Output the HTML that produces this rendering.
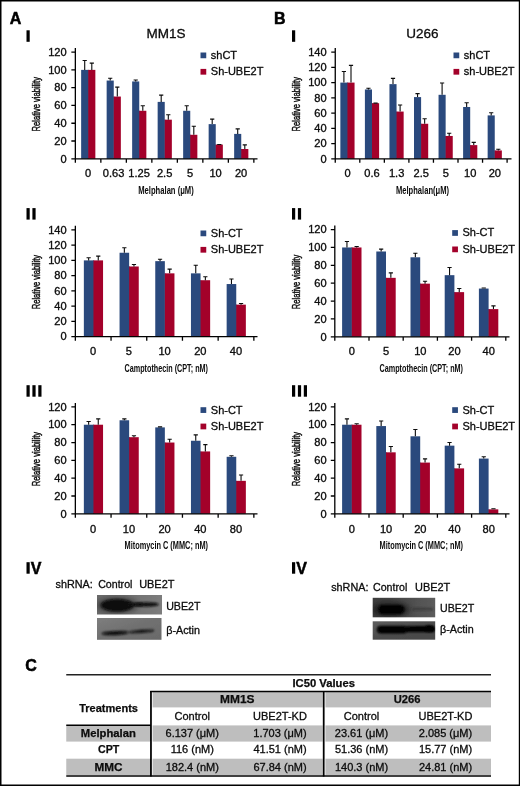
<!DOCTYPE html>
<html><head><meta charset="utf-8"><title>Figure</title>
<style>html,body{margin:0;padding:0;background:#fff;}svg{display:block;will-change:transform;opacity:0.999;}body{font-family:"Liberation Sans",sans-serif;}</style></head>
<body>
<svg width="520" height="786" viewBox="0 0 520 786" font-family="'Liberation Sans', sans-serif" fill="#0b0b0b">
<rect x="0" y="0" width="520" height="786" fill="#fff"/>
<defs><filter id="soft" filterUnits="userSpaceOnUse" x="0" y="0" width="520" height="786"><feGaussianBlur stdDeviation="0.3"/></filter></defs>
<g filter="url(#soft)">
<rect x="0" y="0" width="520" height="786" fill="#fff"/>
<rect x="81.15" y="69.88" width="7.10" height="88.92" fill="#2c4a7d"/>
<rect x="87.75" y="69.88" width="1.2" height="88.92" fill="#2c4a7d"/>
<rect x="88.25" y="69.88" width="7.10" height="88.92" fill="#a3002c"/>
<path d="M84.70 69.88V60.45M82.60 60.45H86.80" stroke="#0b0b0b" stroke-width="1.1" fill="none"/>
<path d="M91.80 69.88V63.12M89.70 63.12H93.90" stroke="#0b0b0b" stroke-width="1.1" fill="none"/>
<rect x="106.65" y="80.55" width="7.10" height="78.25" fill="#2c4a7d"/>
<rect x="113.25" y="96.56" width="1.2" height="62.24" fill="#2c4a7d"/>
<rect x="113.75" y="96.56" width="7.10" height="62.24" fill="#a3002c"/>
<path d="M110.20 80.55V78.24M108.10 78.24H112.30" stroke="#0b0b0b" stroke-width="1.1" fill="none"/>
<path d="M117.30 96.56V87.13M115.20 87.13H119.40" stroke="#0b0b0b" stroke-width="1.1" fill="none"/>
<rect x="132.15" y="81.44" width="7.10" height="77.36" fill="#2c4a7d"/>
<rect x="138.75" y="110.78" width="1.2" height="48.02" fill="#2c4a7d"/>
<rect x="139.25" y="110.78" width="7.10" height="48.02" fill="#a3002c"/>
<path d="M135.70 81.44V80.01M133.60 80.01H137.80" stroke="#0b0b0b" stroke-width="1.1" fill="none"/>
<path d="M142.80 110.78V105.80M140.70 105.80H144.90" stroke="#0b0b0b" stroke-width="1.1" fill="none"/>
<rect x="157.65" y="101.89" width="7.10" height="56.91" fill="#2c4a7d"/>
<rect x="164.25" y="119.68" width="1.2" height="39.12" fill="#2c4a7d"/>
<rect x="164.75" y="119.68" width="7.10" height="39.12" fill="#a3002c"/>
<path d="M161.20 101.89V95.13M159.10 95.13H163.30" stroke="#0b0b0b" stroke-width="1.1" fill="none"/>
<path d="M168.30 119.68V114.69M166.20 114.69H170.40" stroke="#0b0b0b" stroke-width="1.1" fill="none"/>
<rect x="183.15" y="110.78" width="7.10" height="48.02" fill="#2c4a7d"/>
<rect x="189.75" y="134.79" width="1.2" height="24.01" fill="#2c4a7d"/>
<rect x="190.25" y="134.79" width="7.10" height="24.01" fill="#a3002c"/>
<path d="M186.70 110.78V105.80M184.60 105.80H188.80" stroke="#0b0b0b" stroke-width="1.1" fill="none"/>
<path d="M193.80 134.79V126.25M191.70 126.25H195.90" stroke="#0b0b0b" stroke-width="1.1" fill="none"/>
<rect x="208.65" y="124.12" width="7.10" height="34.68" fill="#2c4a7d"/>
<rect x="215.25" y="144.57" width="1.2" height="14.23" fill="#2c4a7d"/>
<rect x="215.75" y="144.57" width="7.10" height="14.23" fill="#a3002c"/>
<path d="M212.20 124.12V119.14M210.10 119.14H214.30" stroke="#0b0b0b" stroke-width="1.1" fill="none"/>
<path d="M219.30 144.57V144.48M217.20 144.48H221.40" stroke="#0b0b0b" stroke-width="1.1" fill="none"/>
<rect x="234.15" y="133.90" width="7.10" height="24.90" fill="#2c4a7d"/>
<rect x="240.75" y="149.02" width="1.2" height="9.78" fill="#2c4a7d"/>
<rect x="241.25" y="149.02" width="7.10" height="9.78" fill="#a3002c"/>
<path d="M237.70 133.90V128.92M235.60 128.92H239.80" stroke="#0b0b0b" stroke-width="1.1" fill="none"/>
<path d="M244.80 149.02V144.92M242.70 144.92H246.90" stroke="#0b0b0b" stroke-width="1.1" fill="none"/>
<path d="M75.35 48.10V162.80M71.35 158.8H257.5M71.35 141.02H75.35M71.35 123.23H75.35M71.35 105.45H75.35M71.35 87.67H75.35M71.35 69.88H75.35M71.35 52.10H75.35M100.85 158.8V162.8M126.35 158.8V162.8M151.85 158.8V162.8M177.35 158.8V162.8M202.85 158.8V162.8M228.35 158.8V162.8M253.85 158.8V162.8" stroke="#000" stroke-width="1.3" fill="none"/>
<text transform="translate(66.7,162.55) scale(1.11,1)" font-size="10" text-anchor="end" stroke="#0b0b0b" stroke-width="0.3">0</text>
<text transform="translate(66.7,144.77) scale(1.11,1)" font-size="10" text-anchor="end" stroke="#0b0b0b" stroke-width="0.3">20</text>
<text transform="translate(66.7,126.98) scale(1.11,1)" font-size="10" text-anchor="end" stroke="#0b0b0b" stroke-width="0.3">40</text>
<text transform="translate(66.7,109.20) scale(1.11,1)" font-size="10" text-anchor="end" stroke="#0b0b0b" stroke-width="0.3">60</text>
<text transform="translate(66.7,91.42) scale(1.11,1)" font-size="10" text-anchor="end" stroke="#0b0b0b" stroke-width="0.3">80</text>
<text transform="translate(66.7,73.63) scale(1.11,1)" font-size="10" text-anchor="end" stroke="#0b0b0b" stroke-width="0.3">100</text>
<text transform="translate(66.7,55.85) scale(1.11,1)" font-size="10" text-anchor="end" stroke="#0b0b0b" stroke-width="0.3">120</text>
<text transform="translate(88.10,177) scale(1.11,1)" font-size="10" text-anchor="middle" stroke="#0b0b0b" stroke-width="0.3">0</text>
<text transform="translate(113.60,177) scale(1.11,1)" font-size="10" text-anchor="middle" stroke="#0b0b0b" stroke-width="0.3">0.63</text>
<text transform="translate(139.10,177) scale(1.11,1)" font-size="10" text-anchor="middle" stroke="#0b0b0b" stroke-width="0.3">1.25</text>
<text transform="translate(164.60,177) scale(1.11,1)" font-size="10" text-anchor="middle" stroke="#0b0b0b" stroke-width="0.3">2.5</text>
<text transform="translate(190.10,177) scale(1.11,1)" font-size="10" text-anchor="middle" stroke="#0b0b0b" stroke-width="0.3">5</text>
<text transform="translate(215.60,177) scale(1.11,1)" font-size="10" text-anchor="middle" stroke="#0b0b0b" stroke-width="0.3">10</text>
<text transform="translate(241.10,177) scale(1.11,1)" font-size="10" text-anchor="middle" stroke="#0b0b0b" stroke-width="0.3">20</text>
<text x="166" y="194" font-size="11.3" text-anchor="middle" font-weight="bold" textLength="55.5" lengthAdjust="spacingAndGlyphs">Melphalan (μM)</text>
<text transform="translate(39.8,104.25) rotate(-90)" font-size="10.4" stroke="#111" stroke-width="0.45" text-anchor="middle" textLength="54.4" lengthAdjust="spacingAndGlyphs">Relative viability</text>
<rect x="200.5" y="52.5" width="5.75" height="5.75" fill="#2c4a7d"/>
<rect x="200.5" y="68.9" width="5.75" height="5.75" fill="#a3002c"/>
<text x="210.8" y="58.85" font-size="11" text-anchor="start" stroke="#0b0b0b" stroke-width="0.3">shCT</text>
<text x="210.8" y="75.25" font-size="11" text-anchor="start" stroke="#0b0b0b" stroke-width="0.3">Sh-UBE2T</text>
<rect x="83.85" y="260.38" width="9.60" height="76.32" fill="#2c4a7d"/>
<rect x="92.95" y="260.38" width="1.2" height="76.32" fill="#2c4a7d"/>
<rect x="93.45" y="260.38" width="9.60" height="76.32" fill="#a3002c"/>
<path d="M88.65 260.38V257.68M86.55 257.68H90.75" stroke="#0b0b0b" stroke-width="1.1" fill="none"/>
<path d="M98.25 260.38V256.15M96.15 256.15H100.35" stroke="#0b0b0b" stroke-width="1.1" fill="none"/>
<rect x="119.55" y="252.75" width="9.60" height="83.95" fill="#2c4a7d"/>
<rect x="128.65" y="266.48" width="1.2" height="70.22" fill="#2c4a7d"/>
<rect x="129.15" y="266.48" width="9.60" height="70.22" fill="#a3002c"/>
<path d="M124.35 252.75V247.75M122.25 247.75H126.45" stroke="#0b0b0b" stroke-width="1.1" fill="none"/>
<path d="M133.95 266.48V264.54M131.85 264.54H136.05" stroke="#0b0b0b" stroke-width="1.1" fill="none"/>
<rect x="155.25" y="261.14" width="9.60" height="75.56" fill="#2c4a7d"/>
<rect x="164.35" y="273.35" width="1.2" height="63.35" fill="#2c4a7d"/>
<rect x="164.85" y="273.35" width="9.60" height="63.35" fill="#a3002c"/>
<path d="M160.05 261.14V259.20M157.95 259.20H162.15" stroke="#0b0b0b" stroke-width="1.1" fill="none"/>
<path d="M169.65 273.35V269.12M167.55 269.12H171.75" stroke="#0b0b0b" stroke-width="1.1" fill="none"/>
<rect x="190.95" y="273.35" width="9.60" height="63.35" fill="#2c4a7d"/>
<rect x="200.05" y="280.22" width="1.2" height="56.48" fill="#2c4a7d"/>
<rect x="200.55" y="280.22" width="9.60" height="56.48" fill="#a3002c"/>
<path d="M195.75 273.35V265.31M193.65 265.31H197.85" stroke="#0b0b0b" stroke-width="1.1" fill="none"/>
<path d="M205.35 280.22V276.76M203.25 276.76H207.45" stroke="#0b0b0b" stroke-width="1.1" fill="none"/>
<rect x="226.65" y="284.04" width="9.60" height="52.66" fill="#2c4a7d"/>
<rect x="235.75" y="304.64" width="1.2" height="32.05" fill="#2c4a7d"/>
<rect x="236.25" y="304.64" width="9.60" height="32.05" fill="#a3002c"/>
<path d="M231.45 284.04V279.05M229.35 279.05H233.55" stroke="#0b0b0b" stroke-width="1.1" fill="none"/>
<path d="M241.05 304.64V303.47M238.95 303.47H243.15" stroke="#0b0b0b" stroke-width="1.1" fill="none"/>
<path d="M75.35 225.85V340.70M71.35 336.7H257.5M71.35 321.44H75.35M71.35 306.17H75.35M71.35 290.91H75.35M71.35 275.64H75.35M71.35 260.38H75.35M71.35 245.11H75.35M71.35 229.85H75.35M111.05 336.7V340.7M146.75 336.7V340.7M182.45 336.7V340.7M218.15 336.7V340.7M253.85 336.7V340.7" stroke="#000" stroke-width="1.3" fill="none"/>
<text transform="translate(66.7,340.45) scale(1.11,1)" font-size="10" text-anchor="end" stroke="#0b0b0b" stroke-width="0.3">0</text>
<text transform="translate(66.7,325.19) scale(1.11,1)" font-size="10" text-anchor="end" stroke="#0b0b0b" stroke-width="0.3">20</text>
<text transform="translate(66.7,309.92) scale(1.11,1)" font-size="10" text-anchor="end" stroke="#0b0b0b" stroke-width="0.3">40</text>
<text transform="translate(66.7,294.66) scale(1.11,1)" font-size="10" text-anchor="end" stroke="#0b0b0b" stroke-width="0.3">60</text>
<text transform="translate(66.7,279.39) scale(1.11,1)" font-size="10" text-anchor="end" stroke="#0b0b0b" stroke-width="0.3">80</text>
<text transform="translate(66.7,264.13) scale(1.11,1)" font-size="10" text-anchor="end" stroke="#0b0b0b" stroke-width="0.3">100</text>
<text transform="translate(66.7,248.86) scale(1.11,1)" font-size="10" text-anchor="end" stroke="#0b0b0b" stroke-width="0.3">120</text>
<text transform="translate(66.7,233.60) scale(1.11,1)" font-size="10" text-anchor="end" stroke="#0b0b0b" stroke-width="0.3">140</text>
<text transform="translate(93.20,355) scale(1.11,1)" font-size="10" text-anchor="middle" stroke="#0b0b0b" stroke-width="0.3">0</text>
<text transform="translate(128.90,355) scale(1.11,1)" font-size="10" text-anchor="middle" stroke="#0b0b0b" stroke-width="0.3">5</text>
<text transform="translate(164.60,355) scale(1.11,1)" font-size="10" text-anchor="middle" stroke="#0b0b0b" stroke-width="0.3">10</text>
<text transform="translate(200.30,355) scale(1.11,1)" font-size="10" text-anchor="middle" stroke="#0b0b0b" stroke-width="0.3">20</text>
<text transform="translate(236.00,355) scale(1.11,1)" font-size="10" text-anchor="middle" stroke="#0b0b0b" stroke-width="0.3">40</text>
<text x="166.25" y="371.5" font-size="11.3" text-anchor="middle" font-weight="bold" textLength="83.5" lengthAdjust="spacingAndGlyphs">Camptothecin (CPT; nM)</text>
<text transform="translate(39.8,282.07) rotate(-90)" font-size="10.4" stroke="#111" stroke-width="0.45" text-anchor="middle" textLength="54.4" lengthAdjust="spacingAndGlyphs">Relative viability</text>
<rect x="200.5" y="230.5" width="5.75" height="5.75" fill="#2c4a7d"/>
<rect x="200.5" y="246.9" width="5.75" height="5.75" fill="#a3002c"/>
<text x="210.8" y="236.85" font-size="11" text-anchor="start" stroke="#0b0b0b" stroke-width="0.3">Sh-CT</text>
<text x="210.8" y="253.25" font-size="11" text-anchor="start" stroke="#0b0b0b" stroke-width="0.3">Sh-UBE2T</text>
<rect x="83.85" y="424.72" width="9.60" height="89.08" fill="#2c4a7d"/>
<rect x="92.95" y="424.72" width="1.2" height="89.08" fill="#2c4a7d"/>
<rect x="93.45" y="424.72" width="9.60" height="89.08" fill="#a3002c"/>
<path d="M88.65 424.72V421.50M86.55 421.50H90.75" stroke="#0b0b0b" stroke-width="1.1" fill="none"/>
<path d="M98.25 424.72V418.83M96.15 418.83H100.35" stroke="#0b0b0b" stroke-width="1.1" fill="none"/>
<rect x="119.55" y="420.26" width="9.60" height="93.54" fill="#2c4a7d"/>
<rect x="128.65" y="437.19" width="1.2" height="76.61" fill="#2c4a7d"/>
<rect x="129.15" y="437.19" width="9.60" height="76.61" fill="#a3002c"/>
<path d="M124.35 420.26V418.83M122.25 418.83H126.45" stroke="#0b0b0b" stroke-width="1.1" fill="none"/>
<path d="M133.95 437.19V435.76M131.85 435.76H136.05" stroke="#0b0b0b" stroke-width="1.1" fill="none"/>
<rect x="155.25" y="427.39" width="9.60" height="86.41" fill="#2c4a7d"/>
<rect x="164.35" y="442.53" width="1.2" height="71.27" fill="#2c4a7d"/>
<rect x="164.85" y="442.53" width="9.60" height="71.27" fill="#a3002c"/>
<path d="M160.05 427.39V426.85M157.95 426.85H162.15" stroke="#0b0b0b" stroke-width="1.1" fill="none"/>
<path d="M169.65 442.53V439.32M167.55 439.32H171.75" stroke="#0b0b0b" stroke-width="1.1" fill="none"/>
<rect x="190.95" y="440.75" width="9.60" height="73.05" fill="#2c4a7d"/>
<rect x="200.05" y="451.44" width="1.2" height="62.36" fill="#2c4a7d"/>
<rect x="200.55" y="451.44" width="9.60" height="62.36" fill="#a3002c"/>
<path d="M195.75 440.75V434.87M193.65 434.87H197.85" stroke="#0b0b0b" stroke-width="1.1" fill="none"/>
<path d="M205.35 451.44V444.66M203.25 444.66H207.45" stroke="#0b0b0b" stroke-width="1.1" fill="none"/>
<rect x="226.65" y="456.79" width="9.60" height="57.01" fill="#2c4a7d"/>
<rect x="235.75" y="480.84" width="1.2" height="32.96" fill="#2c4a7d"/>
<rect x="236.25" y="480.84" width="9.60" height="32.96" fill="#a3002c"/>
<path d="M231.45 456.79V455.80M229.35 455.80H233.55" stroke="#0b0b0b" stroke-width="1.1" fill="none"/>
<path d="M241.05 480.84V474.95M238.95 474.95H243.15" stroke="#0b0b0b" stroke-width="1.1" fill="none"/>
<path d="M75.35 402.90V517.80M71.35 513.8H257.5M71.35 495.98H75.35M71.35 478.17H75.35M71.35 460.35H75.35M71.35 442.53H75.35M71.35 424.72H75.35M71.35 406.90H75.35M111.05 513.8V517.8M146.75 513.8V517.8M182.45 513.8V517.8M218.15 513.8V517.8M253.85 513.8V517.8" stroke="#000" stroke-width="1.3" fill="none"/>
<text transform="translate(66.7,517.55) scale(1.11,1)" font-size="10" text-anchor="end" stroke="#0b0b0b" stroke-width="0.3">0</text>
<text transform="translate(66.7,499.73) scale(1.11,1)" font-size="10" text-anchor="end" stroke="#0b0b0b" stroke-width="0.3">20</text>
<text transform="translate(66.7,481.92) scale(1.11,1)" font-size="10" text-anchor="end" stroke="#0b0b0b" stroke-width="0.3">40</text>
<text transform="translate(66.7,464.10) scale(1.11,1)" font-size="10" text-anchor="end" stroke="#0b0b0b" stroke-width="0.3">60</text>
<text transform="translate(66.7,446.28) scale(1.11,1)" font-size="10" text-anchor="end" stroke="#0b0b0b" stroke-width="0.3">80</text>
<text transform="translate(66.7,428.47) scale(1.11,1)" font-size="10" text-anchor="end" stroke="#0b0b0b" stroke-width="0.3">100</text>
<text transform="translate(66.7,410.65) scale(1.11,1)" font-size="10" text-anchor="end" stroke="#0b0b0b" stroke-width="0.3">120</text>
<text transform="translate(93.20,532.5) scale(1.11,1)" font-size="10" text-anchor="middle" stroke="#0b0b0b" stroke-width="0.3">0</text>
<text transform="translate(128.90,532.5) scale(1.11,1)" font-size="10" text-anchor="middle" stroke="#0b0b0b" stroke-width="0.3">10</text>
<text transform="translate(164.60,532.5) scale(1.11,1)" font-size="10" text-anchor="middle" stroke="#0b0b0b" stroke-width="0.3">20</text>
<text transform="translate(200.30,532.5) scale(1.11,1)" font-size="10" text-anchor="middle" stroke="#0b0b0b" stroke-width="0.3">40</text>
<text transform="translate(236.00,532.5) scale(1.11,1)" font-size="10" text-anchor="middle" stroke="#0b0b0b" stroke-width="0.3">80</text>
<text x="166.25" y="548.5" font-size="11.3" text-anchor="middle" font-weight="bold" textLength="83.5" lengthAdjust="spacingAndGlyphs">Mitomycin C (MMC; nM)</text>
<text transform="translate(39.8,459.15) rotate(-90)" font-size="10.4" stroke="#111" stroke-width="0.45" text-anchor="middle" textLength="54.4" lengthAdjust="spacingAndGlyphs">Relative viability</text>
<rect x="200.5" y="407.2" width="5.75" height="5.75" fill="#2c4a7d"/>
<rect x="200.5" y="423.59999999999997" width="5.75" height="5.75" fill="#a3002c"/>
<text x="210.8" y="413.55" font-size="11" text-anchor="start" stroke="#0b0b0b" stroke-width="0.3">Sh-CT</text>
<text x="210.8" y="429.95" font-size="11" text-anchor="start" stroke="#0b0b0b" stroke-width="0.3">Sh-UBE2T</text>
<rect x="340.35" y="82.60" width="7.10" height="76.25" fill="#2c4a7d"/>
<rect x="346.95" y="82.60" width="1.2" height="76.25" fill="#2c4a7d"/>
<rect x="347.45" y="82.60" width="7.10" height="76.25" fill="#a3002c"/>
<path d="M343.90 82.60V71.51M341.80 71.51H346.00" stroke="#0b0b0b" stroke-width="1.1" fill="none"/>
<path d="M351.00 82.60V65.41M348.90 65.41H353.10" stroke="#0b0b0b" stroke-width="1.1" fill="none"/>
<rect x="364.90" y="89.46" width="7.10" height="69.39" fill="#2c4a7d"/>
<rect x="371.50" y="103.19" width="1.2" height="55.66" fill="#2c4a7d"/>
<rect x="372.00" y="103.19" width="7.10" height="55.66" fill="#a3002c"/>
<path d="M368.45 89.46V88.29M366.35 88.29H370.55" stroke="#0b0b0b" stroke-width="1.1" fill="none"/>
<path d="M375.55 103.19V103.16M373.45 103.16H377.65" stroke="#0b0b0b" stroke-width="1.1" fill="none"/>
<rect x="389.45" y="84.12" width="7.10" height="74.72" fill="#2c4a7d"/>
<rect x="396.05" y="111.57" width="1.2" height="47.27" fill="#2c4a7d"/>
<rect x="396.55" y="111.57" width="7.10" height="47.27" fill="#a3002c"/>
<path d="M393.00 84.12V78.38M390.90 78.38H395.10" stroke="#0b0b0b" stroke-width="1.1" fill="none"/>
<path d="M400.10 111.57V105.06M398.00 105.06H402.20" stroke="#0b0b0b" stroke-width="1.1" fill="none"/>
<rect x="414.00" y="97.09" width="7.10" height="61.76" fill="#2c4a7d"/>
<rect x="420.60" y="123.78" width="1.2" height="35.07" fill="#2c4a7d"/>
<rect x="421.10" y="123.78" width="7.10" height="35.07" fill="#a3002c"/>
<path d="M417.55 97.09V93.62M415.45 93.62H419.65" stroke="#0b0b0b" stroke-width="1.1" fill="none"/>
<path d="M424.65 123.78V118.79M422.55 118.79H426.75" stroke="#0b0b0b" stroke-width="1.1" fill="none"/>
<rect x="438.55" y="94.80" width="7.10" height="64.05" fill="#2c4a7d"/>
<rect x="445.15" y="135.97" width="1.2" height="22.88" fill="#2c4a7d"/>
<rect x="445.65" y="135.97" width="7.10" height="22.88" fill="#a3002c"/>
<path d="M442.10 94.80V82.95M440.00 82.95H444.20" stroke="#0b0b0b" stroke-width="1.1" fill="none"/>
<path d="M449.20 135.97V133.28M447.10 133.28H451.30" stroke="#0b0b0b" stroke-width="1.1" fill="none"/>
<rect x="463.10" y="107.00" width="7.10" height="51.85" fill="#2c4a7d"/>
<rect x="469.70" y="145.12" width="1.2" height="13.72" fill="#2c4a7d"/>
<rect x="470.20" y="145.12" width="7.10" height="13.72" fill="#a3002c"/>
<path d="M466.65 107.00V102.77M464.55 102.77H468.75" stroke="#0b0b0b" stroke-width="1.1" fill="none"/>
<path d="M473.75 145.12V142.42M471.65 142.42H475.85" stroke="#0b0b0b" stroke-width="1.1" fill="none"/>
<rect x="487.65" y="115.39" width="7.10" height="43.46" fill="#2c4a7d"/>
<rect x="494.25" y="150.46" width="1.2" height="8.39" fill="#2c4a7d"/>
<rect x="494.75" y="150.46" width="7.10" height="8.39" fill="#a3002c"/>
<path d="M491.20 115.39V112.69M489.10 112.69H493.30" stroke="#0b0b0b" stroke-width="1.1" fill="none"/>
<path d="M498.30 150.46V149.29M496.20 149.29H500.40" stroke="#0b0b0b" stroke-width="1.1" fill="none"/>
<path d="M335.25 48.10V162.85M331.25 158.85H511.5M331.25 143.60H335.25M331.25 128.35H335.25M331.25 113.10H335.25M331.25 97.85H335.25M331.25 82.60H335.25M331.25 67.35H335.25M331.25 52.10H335.25M359.80 158.85V162.85M384.35 158.85V162.85M408.90 158.85V162.85M433.45 158.85V162.85M458.00 158.85V162.85M482.55 158.85V162.85M507.10 158.85V162.85" stroke="#000" stroke-width="1.3" fill="none"/>
<text transform="translate(326.7,162.60) scale(1.11,1)" font-size="10" text-anchor="end" stroke="#0b0b0b" stroke-width="0.3">0</text>
<text transform="translate(326.7,147.35) scale(1.11,1)" font-size="10" text-anchor="end" stroke="#0b0b0b" stroke-width="0.3">20</text>
<text transform="translate(326.7,132.10) scale(1.11,1)" font-size="10" text-anchor="end" stroke="#0b0b0b" stroke-width="0.3">40</text>
<text transform="translate(326.7,116.85) scale(1.11,1)" font-size="10" text-anchor="end" stroke="#0b0b0b" stroke-width="0.3">60</text>
<text transform="translate(326.7,101.60) scale(1.11,1)" font-size="10" text-anchor="end" stroke="#0b0b0b" stroke-width="0.3">80</text>
<text transform="translate(326.7,86.35) scale(1.11,1)" font-size="10" text-anchor="end" stroke="#0b0b0b" stroke-width="0.3">100</text>
<text transform="translate(326.7,71.10) scale(1.11,1)" font-size="10" text-anchor="end" stroke="#0b0b0b" stroke-width="0.3">120</text>
<text transform="translate(326.7,55.85) scale(1.11,1)" font-size="10" text-anchor="end" stroke="#0b0b0b" stroke-width="0.3">140</text>
<text transform="translate(347.52,177) scale(1.11,1)" font-size="10" text-anchor="middle" stroke="#0b0b0b" stroke-width="0.3">0</text>
<text transform="translate(372.07,177) scale(1.11,1)" font-size="10" text-anchor="middle" stroke="#0b0b0b" stroke-width="0.3">0.6</text>
<text transform="translate(396.62,177) scale(1.11,1)" font-size="10" text-anchor="middle" stroke="#0b0b0b" stroke-width="0.3">1.3</text>
<text transform="translate(421.18,177) scale(1.11,1)" font-size="10" text-anchor="middle" stroke="#0b0b0b" stroke-width="0.3">2.5</text>
<text transform="translate(445.73,177) scale(1.11,1)" font-size="10" text-anchor="middle" stroke="#0b0b0b" stroke-width="0.3">5</text>
<text transform="translate(470.27,177) scale(1.11,1)" font-size="10" text-anchor="middle" stroke="#0b0b0b" stroke-width="0.3">10</text>
<text transform="translate(494.83,177) scale(1.11,1)" font-size="10" text-anchor="middle" stroke="#0b0b0b" stroke-width="0.3">20</text>
<text x="422.5" y="194" font-size="11.3" text-anchor="middle" font-weight="bold" textLength="53" lengthAdjust="spacingAndGlyphs">Melphalan(μM)</text>
<text transform="translate(299.8,104.27) rotate(-90)" font-size="10.4" stroke="#111" stroke-width="0.45" text-anchor="middle" textLength="54.4" lengthAdjust="spacingAndGlyphs">Relative viability</text>
<rect x="453.5" y="52.5" width="5.75" height="5.75" fill="#2c4a7d"/>
<rect x="453.5" y="68.9" width="5.75" height="5.75" fill="#a3002c"/>
<text x="463.8" y="58.85" font-size="11" text-anchor="start" stroke="#0b0b0b" stroke-width="0.3">shCT</text>
<text x="463.8" y="75.25" font-size="11" text-anchor="start" stroke="#0b0b0b" stroke-width="0.3">sh-UBE2T</text>
<rect x="342.10" y="247.47" width="9.70" height="89.33" fill="#2c4a7d"/>
<rect x="351.30" y="247.47" width="1.2" height="89.33" fill="#2c4a7d"/>
<rect x="351.80" y="247.47" width="9.70" height="89.33" fill="#a3002c"/>
<path d="M346.95 247.47V241.56M344.85 241.56H349.05" stroke="#0b0b0b" stroke-width="1.1" fill="none"/>
<path d="M356.65 247.47V246.48M354.55 246.48H358.75" stroke="#0b0b0b" stroke-width="1.1" fill="none"/>
<rect x="376.30" y="251.49" width="9.70" height="85.31" fill="#2c4a7d"/>
<rect x="385.50" y="277.84" width="1.2" height="58.96" fill="#2c4a7d"/>
<rect x="386.00" y="277.84" width="9.70" height="58.96" fill="#a3002c"/>
<path d="M381.15 251.49V249.16M379.05 249.16H383.25" stroke="#0b0b0b" stroke-width="1.1" fill="none"/>
<path d="M390.85 277.84V272.83M388.75 272.83H392.95" stroke="#0b0b0b" stroke-width="1.1" fill="none"/>
<rect x="410.50" y="257.29" width="9.70" height="79.51" fill="#2c4a7d"/>
<rect x="419.70" y="283.65" width="1.2" height="53.15" fill="#2c4a7d"/>
<rect x="420.20" y="283.65" width="9.70" height="53.15" fill="#a3002c"/>
<path d="M415.35 257.29V253.18M413.25 253.18H417.45" stroke="#0b0b0b" stroke-width="1.1" fill="none"/>
<path d="M425.05 283.65V281.32M422.95 281.32H427.15" stroke="#0b0b0b" stroke-width="1.1" fill="none"/>
<rect x="444.70" y="275.16" width="9.70" height="61.64" fill="#2c4a7d"/>
<rect x="453.90" y="292.13" width="1.2" height="44.67" fill="#2c4a7d"/>
<rect x="454.40" y="292.13" width="9.70" height="44.67" fill="#a3002c"/>
<path d="M449.55 275.16V267.47M447.45 267.47H451.65" stroke="#0b0b0b" stroke-width="1.1" fill="none"/>
<path d="M459.25 292.13V288.46M457.15 288.46H461.35" stroke="#0b0b0b" stroke-width="1.1" fill="none"/>
<rect x="478.90" y="288.56" width="9.70" height="48.24" fill="#2c4a7d"/>
<rect x="488.10" y="309.11" width="1.2" height="27.69" fill="#2c4a7d"/>
<rect x="488.60" y="309.11" width="9.70" height="27.69" fill="#a3002c"/>
<path d="M483.75 288.56V288.02M481.65 288.02H485.85" stroke="#0b0b0b" stroke-width="1.1" fill="none"/>
<path d="M493.45 309.11V305.88M491.35 305.88H495.55" stroke="#0b0b0b" stroke-width="1.1" fill="none"/>
<path d="M334.8 225.60V340.80M330.8 336.8H509.5M330.8 318.93H334.8M330.8 301.07H334.8M330.8 283.20H334.8M330.8 265.33H334.8M330.8 247.47H334.8M330.8 229.60H334.8M369.00 336.8V340.8M403.20 336.8V340.8M437.40 336.8V340.8M471.60 336.8V340.8M505.80 336.8V340.8" stroke="#000" stroke-width="1.3" fill="none"/>
<text transform="translate(326.7,340.55) scale(1.11,1)" font-size="10" text-anchor="end" stroke="#0b0b0b" stroke-width="0.3">0</text>
<text transform="translate(326.7,322.68) scale(1.11,1)" font-size="10" text-anchor="end" stroke="#0b0b0b" stroke-width="0.3">20</text>
<text transform="translate(326.7,304.82) scale(1.11,1)" font-size="10" text-anchor="end" stroke="#0b0b0b" stroke-width="0.3">40</text>
<text transform="translate(326.7,286.95) scale(1.11,1)" font-size="10" text-anchor="end" stroke="#0b0b0b" stroke-width="0.3">60</text>
<text transform="translate(326.7,269.08) scale(1.11,1)" font-size="10" text-anchor="end" stroke="#0b0b0b" stroke-width="0.3">80</text>
<text transform="translate(326.7,251.22) scale(1.11,1)" font-size="10" text-anchor="end" stroke="#0b0b0b" stroke-width="0.3">100</text>
<text transform="translate(326.7,233.35) scale(1.11,1)" font-size="10" text-anchor="end" stroke="#0b0b0b" stroke-width="0.3">120</text>
<text transform="translate(351.90,355) scale(1.11,1)" font-size="10" text-anchor="middle" stroke="#0b0b0b" stroke-width="0.3">0</text>
<text transform="translate(386.10,355) scale(1.11,1)" font-size="10" text-anchor="middle" stroke="#0b0b0b" stroke-width="0.3">5</text>
<text transform="translate(420.30,355) scale(1.11,1)" font-size="10" text-anchor="middle" stroke="#0b0b0b" stroke-width="0.3">10</text>
<text transform="translate(454.50,355) scale(1.11,1)" font-size="10" text-anchor="middle" stroke="#0b0b0b" stroke-width="0.3">20</text>
<text transform="translate(488.70,355) scale(1.11,1)" font-size="10" text-anchor="middle" stroke="#0b0b0b" stroke-width="0.3">40</text>
<text x="421.25" y="371.5" font-size="11.3" text-anchor="middle" font-weight="bold" textLength="83.5" lengthAdjust="spacingAndGlyphs">Camptothecin (CPT; nM)</text>
<text transform="translate(299.8,282.00) rotate(-90)" font-size="10.4" stroke="#111" stroke-width="0.45" text-anchor="middle" textLength="54.4" lengthAdjust="spacingAndGlyphs">Relative viability</text>
<rect x="452.2" y="230.1" width="5.75" height="5.75" fill="#2c4a7d"/>
<rect x="452.2" y="246.5" width="5.75" height="5.75" fill="#a3002c"/>
<text x="462.5" y="236.45" font-size="11" text-anchor="start" stroke="#0b0b0b" stroke-width="0.3">Sh-CT</text>
<text x="462.5" y="252.85" font-size="11" text-anchor="start" stroke="#0b0b0b" stroke-width="0.3">Sh-UBE2T</text>
<rect x="342.10" y="424.72" width="9.70" height="89.08" fill="#2c4a7d"/>
<rect x="351.30" y="424.72" width="1.2" height="89.08" fill="#2c4a7d"/>
<rect x="351.80" y="424.72" width="9.70" height="89.08" fill="#a3002c"/>
<path d="M346.95 424.72V418.83M344.85 418.83H349.05" stroke="#0b0b0b" stroke-width="1.1" fill="none"/>
<path d="M356.65 424.72V423.73M354.55 423.73H358.75" stroke="#0b0b0b" stroke-width="1.1" fill="none"/>
<rect x="376.30" y="426.05" width="9.70" height="87.75" fill="#2c4a7d"/>
<rect x="385.50" y="452.33" width="1.2" height="61.47" fill="#2c4a7d"/>
<rect x="386.00" y="452.33" width="9.70" height="61.47" fill="#a3002c"/>
<path d="M381.15 426.05V421.06M379.05 421.06H383.25" stroke="#0b0b0b" stroke-width="1.1" fill="none"/>
<path d="M390.85 452.33V446.45M388.75 446.45H392.95" stroke="#0b0b0b" stroke-width="1.1" fill="none"/>
<rect x="410.50" y="436.30" width="9.70" height="77.50" fill="#2c4a7d"/>
<rect x="419.70" y="462.58" width="1.2" height="51.22" fill="#2c4a7d"/>
<rect x="420.20" y="462.58" width="9.70" height="51.22" fill="#a3002c"/>
<path d="M415.35 436.30V429.52M413.25 429.52H417.45" stroke="#0b0b0b" stroke-width="1.1" fill="none"/>
<path d="M425.05 462.58V458.92M422.95 458.92H427.15" stroke="#0b0b0b" stroke-width="1.1" fill="none"/>
<rect x="444.70" y="445.65" width="9.70" height="68.15" fill="#2c4a7d"/>
<rect x="453.90" y="468.37" width="1.2" height="45.43" fill="#2c4a7d"/>
<rect x="454.40" y="468.37" width="9.70" height="45.43" fill="#a3002c"/>
<path d="M449.55 445.65V442.44M447.45 442.44H451.65" stroke="#0b0b0b" stroke-width="1.1" fill="none"/>
<path d="M459.25 468.37V464.26M457.15 464.26H461.35" stroke="#0b0b0b" stroke-width="1.1" fill="none"/>
<rect x="478.90" y="458.57" width="9.70" height="55.23" fill="#2c4a7d"/>
<rect x="488.10" y="509.35" width="1.2" height="4.45" fill="#2c4a7d"/>
<rect x="488.60" y="509.35" width="9.70" height="4.45" fill="#a3002c"/>
<path d="M483.75 458.57V456.69M481.65 456.69H485.85" stroke="#0b0b0b" stroke-width="1.1" fill="none"/>
<path d="M493.45 509.35V508.80M491.35 508.80H495.55" stroke="#0b0b0b" stroke-width="1.1" fill="none"/>
<path d="M334.8 402.90V517.80M330.8 513.8H509.5M330.8 495.98H334.8M330.8 478.17H334.8M330.8 460.35H334.8M330.8 442.53H334.8M330.8 424.72H334.8M330.8 406.90H334.8M369.00 513.8V517.8M403.20 513.8V517.8M437.40 513.8V517.8M471.60 513.8V517.8M505.80 513.8V517.8" stroke="#000" stroke-width="1.3" fill="none"/>
<text transform="translate(326.7,517.55) scale(1.11,1)" font-size="10" text-anchor="end" stroke="#0b0b0b" stroke-width="0.3">0</text>
<text transform="translate(326.7,499.73) scale(1.11,1)" font-size="10" text-anchor="end" stroke="#0b0b0b" stroke-width="0.3">20</text>
<text transform="translate(326.7,481.92) scale(1.11,1)" font-size="10" text-anchor="end" stroke="#0b0b0b" stroke-width="0.3">40</text>
<text transform="translate(326.7,464.10) scale(1.11,1)" font-size="10" text-anchor="end" stroke="#0b0b0b" stroke-width="0.3">60</text>
<text transform="translate(326.7,446.28) scale(1.11,1)" font-size="10" text-anchor="end" stroke="#0b0b0b" stroke-width="0.3">80</text>
<text transform="translate(326.7,428.47) scale(1.11,1)" font-size="10" text-anchor="end" stroke="#0b0b0b" stroke-width="0.3">100</text>
<text transform="translate(326.7,410.65) scale(1.11,1)" font-size="10" text-anchor="end" stroke="#0b0b0b" stroke-width="0.3">120</text>
<text transform="translate(351.90,532.5) scale(1.11,1)" font-size="10" text-anchor="middle" stroke="#0b0b0b" stroke-width="0.3">0</text>
<text transform="translate(386.10,532.5) scale(1.11,1)" font-size="10" text-anchor="middle" stroke="#0b0b0b" stroke-width="0.3">10</text>
<text transform="translate(420.30,532.5) scale(1.11,1)" font-size="10" text-anchor="middle" stroke="#0b0b0b" stroke-width="0.3">20</text>
<text transform="translate(454.50,532.5) scale(1.11,1)" font-size="10" text-anchor="middle" stroke="#0b0b0b" stroke-width="0.3">40</text>
<text transform="translate(488.70,532.5) scale(1.11,1)" font-size="10" text-anchor="middle" stroke="#0b0b0b" stroke-width="0.3">80</text>
<text x="421.25" y="548.5" font-size="11.3" text-anchor="middle" font-weight="bold" textLength="83.5" lengthAdjust="spacingAndGlyphs">Mitomycin C (MMC; nM)</text>
<text transform="translate(299.8,459.15) rotate(-90)" font-size="10.4" stroke="#111" stroke-width="0.45" text-anchor="middle" textLength="54.4" lengthAdjust="spacingAndGlyphs">Relative viability</text>
<rect x="452.2" y="407.2" width="5.75" height="5.75" fill="#2c4a7d"/>
<rect x="452.2" y="423.59999999999997" width="5.75" height="5.75" fill="#a3002c"/>
<text x="462.5" y="413.55" font-size="11" text-anchor="start" stroke="#0b0b0b" stroke-width="0.3">Sh-CT</text>
<text x="462.5" y="429.95" font-size="11" text-anchor="start" stroke="#0b0b0b" stroke-width="0.3">Sh-UBE2T</text>
<text x="166.1" y="38.3" font-size="13.5" text-anchor="middle" stroke="#0b0b0b" stroke-width="0.3">MM1S</text>
<text x="422.5" y="38.3" font-size="13.5" text-anchor="middle" stroke="#0b0b0b" stroke-width="0.3">U266</text>
<text x="9.8" y="23.6" font-size="16" font-weight="bold" fill="#000" stroke="#000" stroke-width="0.5">A</text>
<text x="274.0" y="23.6" font-size="16" font-weight="bold" fill="#000" stroke="#000" stroke-width="0.5">B</text>
<text x="25.25" y="670.9" font-size="16" font-weight="bold" fill="#000" stroke="#000" stroke-width="0.5">C</text>
<rect x="26.50" y="30.3" width="3.2" height="11.5" fill="#000"/>
<rect x="26.50" y="208.1" width="3.2" height="11.5" fill="#000"/>
<rect x="32.40" y="208.1" width="3.2" height="11.5" fill="#000"/>
<rect x="26.50" y="385.2" width="3.2" height="11.5" fill="#000"/>
<rect x="32.40" y="385.2" width="3.2" height="11.5" fill="#000"/>
<rect x="38.30" y="385.2" width="3.2" height="11.5" fill="#000"/>
<rect x="26.50" y="562.2" width="3.2" height="11.5" fill="#000"/>
<text x="30.80" y="573.5" font-size="16" font-weight="bold" fill="#000" stroke="#000" stroke-width="0.5">V</text>
<rect x="292.00" y="30.3" width="3.2" height="11.5" fill="#000"/>
<rect x="292.00" y="208.1" width="3.2" height="11.5" fill="#000"/>
<rect x="297.90" y="208.1" width="3.2" height="11.5" fill="#000"/>
<rect x="292.00" y="385.2" width="3.2" height="11.5" fill="#000"/>
<rect x="297.90" y="385.2" width="3.2" height="11.5" fill="#000"/>
<rect x="303.80" y="385.2" width="3.2" height="11.5" fill="#000"/>
<rect x="292.00" y="562.2" width="3.2" height="11.5" fill="#000"/>
<text x="296.30" y="573.5" font-size="16" font-weight="bold" fill="#000" stroke="#000" stroke-width="0.5">V</text>
<defs><filter id="b1" filterUnits="userSpaceOnUse" x="80" y="585" width="380" height="70"><feGaussianBlur stdDeviation="1.1"/></filter><filter id="b2" filterUnits="userSpaceOnUse" x="80" y="585" width="380" height="70"><feGaussianBlur stdDeviation="0.85"/></filter><filter id="b3" filterUnits="userSpaceOnUse" x="80" y="585" width="380" height="70"><feGaussianBlur stdDeviation="2.6"/></filter><linearGradient id="g1" x1="0" x2="1" y1="0" y2="0"><stop offset="0" stop-color="#6a6a6a"/><stop offset="0.6" stop-color="#737373"/><stop offset="1" stop-color="#7c7c7c"/></linearGradient><linearGradient id="g2" x1="0" x2="1" y1="0" y2="1"><stop offset="0" stop-color="#7e7e7e"/><stop offset="0.5" stop-color="#707070"/><stop offset="1" stop-color="#6a6a6a"/></linearGradient><linearGradient id="g3" x1="0" x2="1" y1="0" y2="0"><stop offset="0" stop-color="#3c3c3c"/><stop offset="0.55" stop-color="#4c4c4c"/><stop offset="1" stop-color="#5c5c5c"/></linearGradient><linearGradient id="g4" x1="0" x2="1" y1="0" y2="1"><stop offset="0" stop-color="#5e5e5e"/><stop offset="0.5" stop-color="#4c4c4c"/><stop offset="1" stop-color="#484848"/></linearGradient><clipPath id="c1"><rect x="97" y="595" width="65" height="19.5"/></clipPath><clipPath id="c2"><rect x="97" y="618" width="64.5" height="21.8"/></clipPath><clipPath id="c3"><rect x="372.7" y="597.8" width="62.5" height="19.5"/></clipPath><clipPath id="c4"><rect x="372.7" y="621.3" width="62.5" height="18.4"/></clipPath></defs>
<rect x="97" y="595" width="65" height="19.5" fill="url(#g1)"/>
<g clip-path="url(#c1)"><ellipse cx="117.5" cy="605.2" rx="21" ry="8.5" fill="#000" opacity="0.35" filter="url(#b3)"/><ellipse cx="117.2" cy="605.2" rx="16.4" ry="6.3" fill="#0a0a0a" filter="url(#b1)"/><rect x="128" y="603.3" width="14" height="2.6" fill="#0e0e0e" filter="url(#b2)"/><ellipse cx="146.2" cy="604.4" rx="12.6" ry="2.25" fill="#0c0c0c" filter="url(#b2)"/></g>
<rect x="97" y="618" width="64.5" height="21.8" fill="url(#g2)"/>
<g clip-path="url(#c2)"><ellipse cx="115.2" cy="633.1" rx="13.8" ry="2.1" fill="#080808" transform="rotate(-2.5 115.2 633.1)" filter="url(#b2)"/><ellipse cx="141.6" cy="631.4" rx="12.8" ry="1.6" fill="#0c0c0c" transform="rotate(-4 141.6 631.4)" filter="url(#b2)"/></g>
<text x="55.5" y="587.5" font-size="11" text-anchor="start" stroke="#0b0b0b" stroke-width="0.3" textLength="37.3" lengthAdjust="spacingAndGlyphs">shRNA:</text>
<text x="98.2" y="587.5" font-size="11" text-anchor="start" stroke="#0b0b0b" stroke-width="0.3" textLength="34.25" lengthAdjust="spacingAndGlyphs">Control</text>
<text x="139.2" y="587.5" font-size="11" text-anchor="start" stroke="#0b0b0b" stroke-width="0.3" textLength="35.25" lengthAdjust="spacingAndGlyphs">UBE2T</text>
<text x="166.2" y="610" font-size="11" text-anchor="start" stroke="#0b0b0b" stroke-width="0.3" textLength="34.25" lengthAdjust="spacingAndGlyphs">UBE2T</text>
<text x="166.2" y="633.8" font-size="11" text-anchor="start" stroke="#0b0b0b" stroke-width="0.3" textLength="33.75" lengthAdjust="spacingAndGlyphs">β-Actin</text>
<rect x="372.7" y="597.8" width="62.5" height="19.5" fill="url(#g3)"/>
<g clip-path="url(#c3)"><ellipse cx="391" cy="609.5" rx="19" ry="8" fill="#000" opacity="0.45" filter="url(#b3)"/><rect x="378.2" y="605" width="26.4" height="9.2" rx="4.6" fill="#000" filter="url(#b1)"/><rect x="412" y="608.5" width="21" height="1.4" fill="#2c2c2c" filter="url(#b2)"/></g>
<rect x="372.7" y="621.3" width="62.5" height="18.4" fill="url(#g4)"/>
<g clip-path="url(#c4)"><rect x="376.8" y="625.7" width="30.6" height="7.8" rx="3.9" fill="#000" filter="url(#b1)"/><rect x="405" y="626.1" width="30" height="6.2" rx="3.1" fill="#000" filter="url(#b1)"/><ellipse cx="429" cy="628.6" rx="5" ry="3.4" fill="#000" filter="url(#b1)"/></g>
<text x="331.2" y="590.5" font-size="11" text-anchor="start" stroke="#0b0b0b" stroke-width="0.3" textLength="37.3" lengthAdjust="spacingAndGlyphs">shRNA:</text>
<text x="373" y="590.5" font-size="11" text-anchor="start" stroke="#0b0b0b" stroke-width="0.3" textLength="34.25" lengthAdjust="spacingAndGlyphs">Control</text>
<text x="415" y="590.5" font-size="11" text-anchor="start" stroke="#0b0b0b" stroke-width="0.3" textLength="35.25" lengthAdjust="spacingAndGlyphs">UBE2T</text>
<text x="440" y="612" font-size="11" text-anchor="start" stroke="#0b0b0b" stroke-width="0.3" textLength="34.25" lengthAdjust="spacingAndGlyphs">UBE2T</text>
<text x="440" y="633.3" font-size="11" text-anchor="start" stroke="#0b0b0b" stroke-width="0.3" textLength="33.75" lengthAdjust="spacingAndGlyphs">β-Actin</text>
<rect x="152.6" y="692" width="170.1" height="15.4" fill="#bebebe"/>
<rect x="325.4" y="692" width="165.6" height="15.4" fill="#bebebe"/>
<rect x="66.25" y="725.4" width="84" height="16.20" fill="#bebebe"/>
<rect x="152.6" y="725.4" width="170.1" height="16.20" fill="#bebebe"/>
<rect x="325.4" y="725.4" width="165.6" height="16.20" fill="#bebebe"/>
<rect x="66.25" y="758.7" width="84" height="16.30" fill="#bebebe"/>
<rect x="152.6" y="758.7" width="170.1" height="16.30" fill="#bebebe"/>
<rect x="325.4" y="758.7" width="165.6" height="16.30" fill="#bebebe"/>
<path d="M66.25 674.75H491" stroke="#222" stroke-width="1.3" fill="none"/>
<path d="M150.15 691.45H491M66.25 725.2H150.9M66.25 776.05H491" stroke="#000" stroke-width="1.55" fill="none"/>
<path d="M150.95 691V776.5M323.7 691V776.5" stroke="#000" stroke-width="1.75" fill="none"/>
<text x="323.75" y="686.6" font-size="11.5" text-anchor="middle" stroke="#0b0b0b" stroke-width="0.25" font-weight="bold" textLength="62.5" lengthAdjust="spacingAndGlyphs">IC50 Values</text>
<text x="237.25" y="703.2" font-size="11.5" text-anchor="middle" stroke="#0b0b0b" stroke-width="0.25" font-weight="bold" textLength="34.5" lengthAdjust="spacingAndGlyphs">MM1S</text>
<text x="407.1" y="703.2" font-size="11.5" text-anchor="middle" stroke="#0b0b0b" stroke-width="0.25" font-weight="bold" textLength="26.75" lengthAdjust="spacingAndGlyphs">U266</text>
<text x="108.6" y="712" font-size="11.5" text-anchor="middle" stroke="#0b0b0b" stroke-width="0.25" font-weight="bold" textLength="58.75" lengthAdjust="spacingAndGlyphs">Treatments</text>
<text x="108.3" y="737.0" font-size="11.5" text-anchor="middle" stroke="#0b0b0b" stroke-width="0.25" font-weight="bold" textLength="55" lengthAdjust="spacingAndGlyphs">Melphalan</text>
<text x="108.6" y="753.4" font-size="11.5" text-anchor="middle" stroke="#0b0b0b" stroke-width="0.25" font-weight="bold" textLength="21.25" lengthAdjust="spacingAndGlyphs">CPT</text>
<text x="108.5" y="770.6" font-size="11.5" text-anchor="middle" stroke="#0b0b0b" stroke-width="0.25" font-weight="bold" textLength="28" lengthAdjust="spacingAndGlyphs">MMC</text>
<text x="192.25" y="719.8" font-size="11" text-anchor="middle" stroke="#0b0b0b" stroke-width="0.3">Control</text>
<text x="280" y="719.8" font-size="11" text-anchor="middle" stroke="#0b0b0b" stroke-width="0.3">UBE2T-KD</text>
<text x="361.5" y="719.8" font-size="11" text-anchor="middle" stroke="#0b0b0b" stroke-width="0.3">Control</text>
<text x="445.5" y="719.8" font-size="11" text-anchor="middle" stroke="#0b0b0b" stroke-width="0.3">UBE2T-KD</text>
<text x="192.25" y="736.8" font-size="11" text-anchor="middle" stroke="#0b0b0b" stroke-width="0.3">6.137 (μM)</text>
<text x="280" y="736.8" font-size="11" text-anchor="middle" stroke="#0b0b0b" stroke-width="0.3">1.703 (μM)</text>
<text x="361.5" y="736.8" font-size="11" text-anchor="middle" stroke="#0b0b0b" stroke-width="0.3">23.61 (μM)</text>
<text x="445.5" y="736.8" font-size="11" text-anchor="middle" stroke="#0b0b0b" stroke-width="0.3">2.085 (μM)</text>
<text x="192.25" y="753.3" font-size="11" text-anchor="middle" stroke="#0b0b0b" stroke-width="0.3">116 (nM)</text>
<text x="280" y="753.3" font-size="11" text-anchor="middle" stroke="#0b0b0b" stroke-width="0.3">41.51 (nM)</text>
<text x="361.5" y="753.3" font-size="11" text-anchor="middle" stroke="#0b0b0b" stroke-width="0.3">51.36 (nM)</text>
<text x="445.5" y="753.3" font-size="11" text-anchor="middle" stroke="#0b0b0b" stroke-width="0.3">15.77 (nM)</text>
<text x="192.25" y="770.6" font-size="11" text-anchor="middle" stroke="#0b0b0b" stroke-width="0.3">182.4 (nM)</text>
<text x="280" y="770.6" font-size="11" text-anchor="middle" stroke="#0b0b0b" stroke-width="0.3">67.84 (nM)</text>
<text x="361.5" y="770.6" font-size="11" text-anchor="middle" stroke="#0b0b0b" stroke-width="0.3">140.3 (nM)</text>
<text x="445.5" y="770.6" font-size="11" text-anchor="middle" stroke="#0b0b0b" stroke-width="0.3">24.81 (nM)</text>
</g>
<path d="M0 0H520V786H0Z M1.5 1.5V784.5H518.8V1.5Z" fill="#000" fill-rule="evenodd"/>
</svg>
</body></html>
